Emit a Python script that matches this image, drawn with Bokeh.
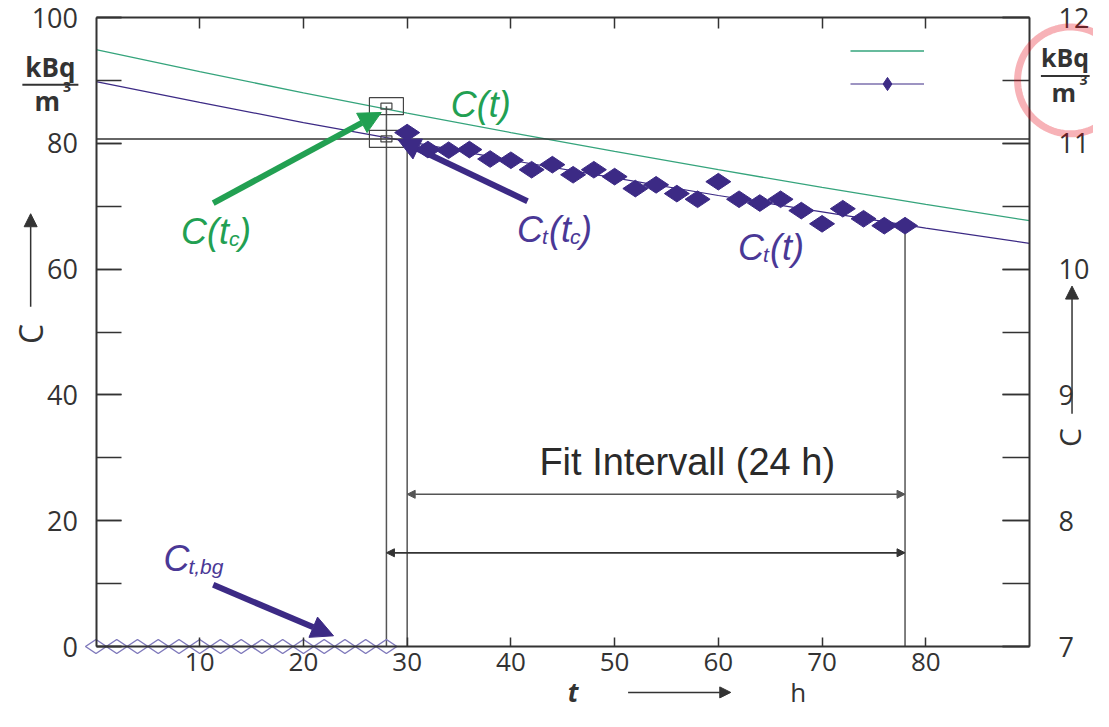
import numpy as np
from bokeh.plotting import figure
from bokeh.models import (Range1d, LinearAxis, FixedTicker, SingleIntervalTicker, Label,
                          Arrow, NormalHead, PolyAnnotation, Legend, LegendItem)
from bokeh.embed import file_html
from bokeh.resources import INLINE

# ---------------- data ----------------
t_meas = [30, 32, 34, 36, 38, 40, 42, 44, 46, 48, 50, 52, 54, 56, 58, 60,
          62, 64, 66, 68, 70, 72, 74, 76, 78]
ct_meas = [81.7, 79.0, 78.9, 79.0, 77.5, 77.3, 75.8, 76.6, 75.0, 75.8, 74.7, 72.8,
           73.4, 72.0, 71.1, 73.9, 71.1, 70.5, 71.1, 69.3, 67.2, 69.6, 68.0, 66.9, 66.9]
t_bg = [0, 2, 4, 6, 8, 10, 12, 14, 16, 18, 20, 22, 24, 26, 28]
ct_bg = [0, 0, 0, 0, 0, 0, 0, 0, 0, 0, 0, 0, 0, 0, 0]
t_fit = [0, 10, 20, 30, 40, 50, 60, 70, 80, 90]
c_fit = [94.9, 91.4, 88.0, 84.8, 81.7, 78.7, 75.8, 73.0, 70.3, 67.7]
ct_fit = [89.8, 86.5, 83.3, 80.3, 77.3, 74.5, 71.7, 69.1, 66.5, 64.1]
t_c = 28
c_at_tc = 85.9
ct_at_tc = 80.7
fit_start = 30
fit_end = 78
x_tick_values = [10, 20, 30, 40, 50, 60, 70, 80]
t_bounds = (0, 90)
c_bounds = (0, 100)
c_right_bounds = (7, 12)

# ---------------- layout: the frame fills the canvas, axes sit at fixed places ----------------
W, H = 1093, 711
BOX_L, BOX_R, BOX_T, BOX_B = 95.5, 1029.0, 17.0, 646.0     # pixel box of the axes
ppx = (BOX_R - BOX_L) / (t_bounds[1] - t_bounds[0])
ppy = (BOX_B - BOX_T) / (c_bounds[1] - c_bounds[0])
x_start = t_bounds[0] - BOX_L / ppx
x_end = t_bounds[0] + (W - BOX_L) / ppx
y_end = c_bounds[0] + BOX_B / ppy
y_start = c_bounds[0] - (H - BOX_B) / ppy
r_scale = (c_right_bounds[1] - c_right_bounds[0]) / (c_bounds[1] - c_bounds[0])

GREEN_LINE = "#35a47c"
GREEN = "#22a052"
PURPLE = "#3c2a85"
PURPLE_TXT = "#4a3896"
BG_PURPLE = "#7f79bb"
DARK = "#333333"
GRAYL = "#555555"
TICKFONT = "Open Sans"
ITFONT = "Liberation Sans"

p = figure(width=W, height=H, output_backend="svg", toolbar_location=None, title=None,
           x_range=Range1d(x_start, x_end), y_range=Range1d(y_start, y_end),
           x_axis_location=None, y_axis_location=None,
           min_border_left=0, min_border_right=0, min_border_top=0, min_border_bottom=0)
p.background_fill_color = "white"
p.border_fill_color = "white"
p.outline_line_color = None
p.xgrid.visible = False
p.ygrid.visible = False
p.extra_y_ranges = {"right": Range1d(c_right_bounds[0] + y_start * r_scale,
                                     c_right_bounds[0] + y_end * r_scale)}


def style_axis(ax, tick_in, font_size, standoff):
    ax.axis_line_color = DARK
    ax.axis_line_width = 2
    ax.major_tick_in = tick_in
    ax.major_tick_out = 0
    ax.minor_tick_in = tick_in
    ax.minor_tick_out = 0
    ax.major_tick_line_color = DARK
    ax.minor_tick_line_color = DARK
    ax.major_tick_line_width = 1.5
    ax.minor_tick_line_width = 1.5
    ax.major_label_text_font = TICKFONT
    ax.major_label_text_font_size = font_size
    ax.major_label_text_color = DARK
    ax.major_label_standoff = standoff


left_ax = LinearAxis(ticker=SingleIntervalTicker(interval=20, num_minor_ticks=2),
                     fixed_location=t_bounds[0], bounds=c_bounds)
style_axis(left_ax, 25, "27px", 18)
p.add_layout(left_ax, "left")

right_ax = LinearAxis(y_range_name="right", fixed_location=t_bounds[1], bounds=c_right_bounds,
                      ticker=SingleIntervalTicker(interval=1, num_minor_ticks=2))
style_axis(right_ax, 27, "27px", 29)
p.add_layout(right_ax, "right")

bottom_ax = LinearAxis(ticker=FixedTicker(ticks=x_tick_values), fixed_location=c_bounds[0],
                       bounds=t_bounds)
style_axis(bottom_ax, 9, "26px", 6)
bottom_ax.minor_tick_in = 0
p.add_layout(bottom_ax, "below")

top_ax = LinearAxis(ticker=FixedTicker(ticks=x_tick_values), fixed_location=c_bounds[1],
                    bounds=t_bounds)
style_axis(top_ax, 11, "20px", 0)
top_ax.minor_tick_in = 0
top_ax.major_label_text_color = None
p.add_layout(top_ax, "above")

# ---------------- curves and data ----------------
r_green = p.line(t_fit, c_fit, line_color=GREEN_LINE, line_width=1.3)
r_purple = p.line(t_fit, ct_fit, line_color=PURPLE, line_width=1.2)

# horizontal reference line at Ct(tc) across the axes box
p.segment(x0=[t_bounds[0]], y0=[ct_at_tc], x1=[t_bounds[1]], y1=[ct_at_tc],
          line_color=DARK, line_width=1.5)

p.segment(x0=[t_c, fit_start, fit_end], y0=[0, 0, 0],
          x1=[t_c, fit_start, fit_end], y1=[c_at_tc, ct_meas[0], ct_meas[-1]],
          line_color=GRAYL, line_width=1.5)

# boxes marking C(tc) and Ct(tc)
p.rect(x=[t_c, t_c], y=[c_at_tc, ct_at_tc], width=34, height=17,
       width_units="screen", height_units="screen",
       fill_color=None, line_color="#444444", line_width=1.2)
p.rect(x=[t_c, t_c], y=[c_at_tc, ct_at_tc], width=11, height=6,
       width_units="screen", height_units="screen",
       fill_color=None, line_color="#444444", line_width=1.2)

r_meas = p.scatter(t_meas, ct_meas, marker="diamond", angle=np.pi / 2, size=25,
                   fill_color=PURPLE, line_color=PURPLE)
p.scatter(t_bg, ct_bg, marker="diamond", angle=np.pi / 2, size=21,
          fill_color="white", fill_alpha=0.0, line_color=BG_PURPLE, line_width=1.5)

# ---------------- fit interval arrows ----------------
p.add_layout(Arrow(x_start=fit_start, y_start=24.2, x_end=fit_end, y_end=24.2,
                   line_color=GRAYL, line_width=1.5,
                   start=NormalHead(size=8, fill_color=GRAYL, line_color=GRAYL),
                   end=NormalHead(size=8, fill_color=GRAYL, line_color=GRAYL)))
p.add_layout(Arrow(x_start=t_c, y_start=14.9, x_end=fit_end, y_end=14.9,
                   line_color=DARK, line_width=1.8,
                   start=NormalHead(size=8, fill_color=DARK, line_color=DARK),
                   end=NormalHead(size=8, fill_color=DARK, line_color=DARK)))
p.add_layout(Label(x=57.0, y=29.3, text="Fit Intervall (24 h)",
                   text_font=ITFONT, text_font_size="38px", text_color="#2a2a2a",
                   text_align="center", text_baseline="middle"))

# ---------------- pointer arrows ----------------
p.add_layout(Arrow(x_start=11.3, y_start=70.5, x_end=27.5, y_end=84.9,
                   line_color=GREEN, line_width=6,
                   end=NormalHead(size=22, fill_color=GREEN, line_color=GREEN)))
p.add_layout(Arrow(x_start=41.6, y_start=70.8, x_end=29.1, y_end=80.6,
                   line_color=PURPLE, line_width=6,
                   end=NormalHead(size=22, fill_color=PURPLE, line_color=PURPLE)))
p.add_layout(Arrow(x_start=11.3, y_start=9.8, x_end=22.9, y_end=1.7,
                   line_color=PURPLE, line_width=6,
                   end=NormalHead(size=22, fill_color=PURPLE, line_color=PURPLE)))


def lab(x, y, text, size, color, dx=0, dy=0, style="italic", font=ITFONT,
        align="left", baseline="alphabetic", angle=0.0):
    p.add_layout(Label(x=x, y=y, text=text, x_offset=dx, y_offset=dy,
                       text_font=font, text_font_size=f"{size}px",
                       text_font_style=style, text_color=color,
                       text_align=align, text_baseline=baseline, angle=angle))


# C(t)
lab(34.2, 86.2, "C(t)", 36, GREEN)
# C(t_c)
lab(8.2, 66.0, "C(t", 36, GREEN)
lab(8.2, 66.0, "c", 21, GREEN, dx=48, dy=-7)
lab(8.2, 66.0, ")", 36, GREEN, dx=58)
# C_t(t_c)
lab(40.6, 66.3, "C", 36, PURPLE_TXT)
lab(40.6, 66.3, "t", 21, PURPLE_TXT, dx=25, dy=-7)
lab(40.6, 66.3, "(t", 36, PURPLE_TXT, dx=32)
lab(40.6, 66.3, "c", 21, PURPLE_TXT, dx=53, dy=-7)
lab(40.6, 66.3, ")", 36, PURPLE_TXT, dx=63)
# C_t(t)
lab(61.9, 63.4, "C", 36, PURPLE_TXT)
lab(61.9, 63.4, "t", 21, PURPLE_TXT, dx=25, dy=-7)
lab(61.9, 63.4, "(t)", 36, PURPLE_TXT, dx=32)
# C_t,bg
lab(6.5, 14.0, "C", 36, PURPLE_TXT)
lab(6.5, 14.0, "t,bg", 21, PURPLE_TXT, dx=25, dy=-8)

# ---------------- axis titles outside the box ----------------
# left unit kBq / m^3
lab(-4.4, 92.1, "kBq", 26, DARK, style="bold", font=TICKFONT, align="center")
p.add_layout(Arrow(x_start=-7.1, y_start=89.3, x_end=-1.7, y_end=89.3,
                   line_color=DARK, line_width=2, start=None, end=None))
lab(-4.7, 86.7, "m", 26, DARK, style="bold", font=TICKFONT, align="center")
lab(-2.8, 89.0, "3", 14, DARK, style="bold", font=TICKFONT, align="center")
# left C with arrow
lab(-6.3, 49.7, "C", 32, DARK, style="normal", font=TICKFONT, align="center",
    baseline="middle", angle=np.pi / 2)
p.add_layout(Arrow(x_start=-6.3, y_start=54.0, x_end=-6.3, y_end=68.8,
                   line_color=DARK, line_width=1.5,
                   end=NormalHead(size=13, fill_color=DARK, line_color=DARK)))
# right unit kBq / m^3
lab(91.1, 93.7, "kBq", 25, DARK, style="bold", font=TICKFONT)
p.add_layout(Arrow(x_start=91.1, y_start=90.7, x_end=95.8, y_end=90.7,
                   line_color=DARK, line_width=2, start=None, end=None))
lab(93.3, 88.2, "m", 25, DARK, style="bold", font=TICKFONT, align="center")
lab(95.2, 90.1, "3", 14, DARK, style="bold", font=TICKFONT, align="center")
# right C with arrow
lab(93.9, 33.2, "C", 30, DARK, style="normal", font=TICKFONT, align="center",
    baseline="middle", angle=np.pi / 2)
p.add_layout(Arrow(x_start=94.1, y_start=37.0, x_end=94.1, y_end=57.3,
                   line_color=DARK, line_width=1.5,
                   end=NormalHead(size=13, fill_color=DARK, line_color=DARK)))
# bottom t -> h
lab(46.0, -7.3, "t", 26, DARK, style="bold italic", font=TICKFONT, align="center",
    baseline="middle")
p.add_layout(Arrow(x_start=51.3, y_start=-7.3, x_end=61.2, y_end=-7.3,
                   line_color=DARK, line_width=1.5,
                   end=NormalHead(size=11, fill_color=DARK, line_color=DARK)))
lab(67.7, -7.3, "h", 26, DARK, style="normal", font=TICKFONT, align="center",
    baseline="middle")

# red circle around the right unit
theta = np.linspace(0, 2 * np.pi, 120)
p.add_layout(PolyAnnotation(xs=list(93.95 + 5.1 * np.cos(theta)),
                            ys=list(90.0 + 8.5 * np.sin(theta)),
                            fill_alpha=0.0, line_color="#e50012", line_width=7))

# ---------------- legend (samples only, no text) ----------------
legend = Legend(items=[LegendItem(label=" ", renderers=[r_green]),
                       LegendItem(label=" ", renderers=[r_purple, r_meas])],
                location=(850, 611), glyph_width=74, glyph_height=33, spacing=0,
                padding=0, margin=0, label_width=0, label_standoff=0,
                label_text_font_size="8px", label_text_color=None,
                border_line_color=None, background_fill_alpha=0.0)
p.add_layout(legend)

open("out.html", "w").write(file_html(p, INLINE))
